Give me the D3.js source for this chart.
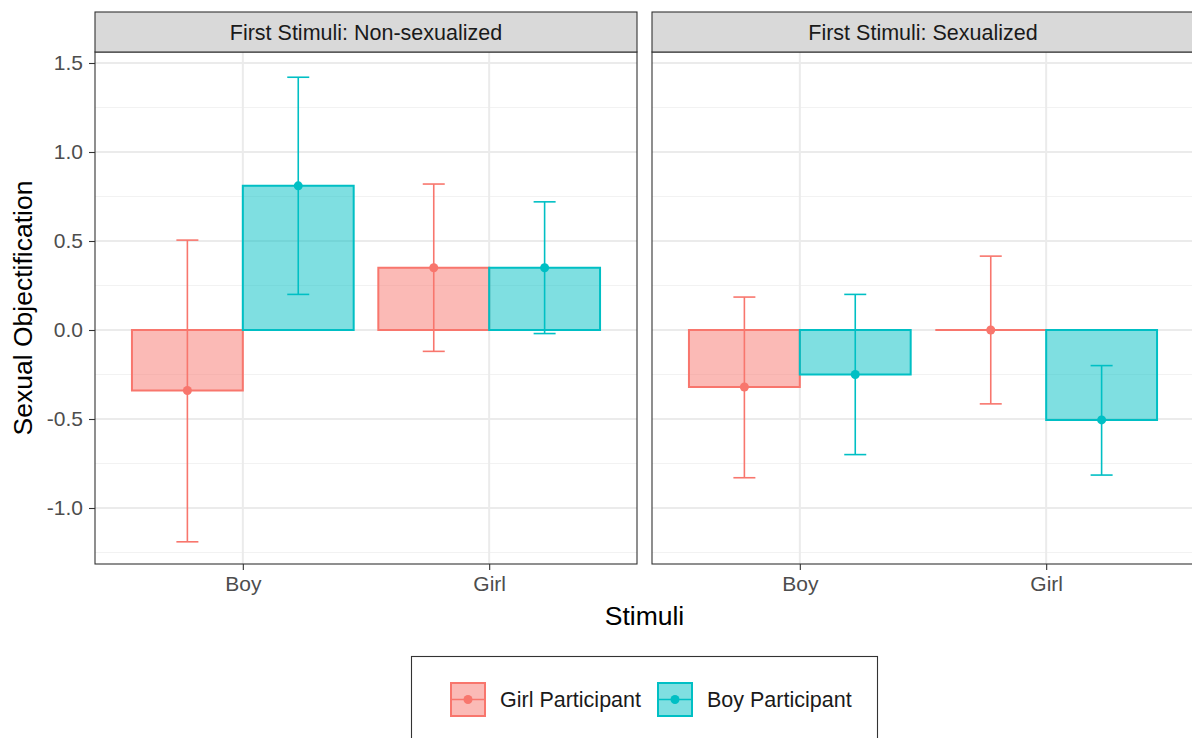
<!DOCTYPE html>
<html>
<head>
<meta charset="utf-8">
<script src="https://cdn.jsdelivr.net/npm/d3@7"></script>
<style>
  body { margin: 0; background: #fff; }
  svg text { font-family: "Liberation Sans", Arial, sans-serif; }
</style>
</head>
<body>
<div class="chart"></div>
<script>
// data
var facets = ["First Stimuli: Non-sexualized", "First Stimuli: Sexualized"];
var stimuli = ["Boy", "Girl"];
var participants = ["Girl Participant", "Boy Participant"];
var yTicks = [-1.0, -0.5, 0.0, 0.5, 1.0, 1.5];

// mean, lower, upper per facet -> stimulus -> participant
var means = [
  [[-0.34, 0.81], [0.35, 0.35]],
  [[-0.32, -0.25], [0.0, -0.505]]
];
var lowers = [
  [[-1.19, 0.20], [-0.12, -0.02]],
  [[-0.83, -0.70], [-0.415, -0.815]]
];
var uppers = [
  [[0.505, 1.42], [0.82, 0.72]],
  [[0.185, 0.20], [0.415, -0.20]]
];

var colors = ["#F8766D", "#00BFC4"];

var svgWidth = 1192, svgHeight = 738;
var panelW = 542, panelTop = 52, panelBottom = 564, stripTop = 12;
var panelX = [95, 652];

var svg = d3.select(".chart").append("svg")
  .attr("width", svgWidth)
  .attr("height", svgHeight);

var y = d3.scaleLinear()
  .domain([-(panelBottom - 330) / 178, (330 - panelTop) / 178])
  .range([panelBottom, panelTop]);

var x = d3.scaleLinear().domain([0.4, 2.6]).range([0, panelW]);
var dodge = 0.45;
var fmt = function(d) { return d3.format(".1f")(d).replace("\u2212", "-"); };

function box(x0, x1, y0, y1) {
  return "M" + x0 + "," + y0 + "H" + x1 + "V" + y1 + "H" + x0 + "Z";
}

facets.forEach(function(f, fi) {
  var g = svg.append("g").attr("transform", "translate(" + panelX[fi] + ",0)");

  // minor grid
  d3.range(-1.25, 1.6, 0.5).forEach(function(v) {
    g.append("line").attr("x1", 0).attr("x2", panelW)
      .attr("y1", y(v)).attr("y2", y(v))
      .attr("stroke", "#F2F2F2").attr("stroke-width", 1);
  });
  // major grid
  yTicks.forEach(function(v) {
    g.append("line").attr("x1", 0).attr("x2", panelW)
      .attr("y1", y(v)).attr("y2", y(v))
      .attr("stroke", "#EBEBEB").attr("stroke-width", 2);
  });
  stimuli.forEach(function(s, si) {
    g.append("line").attr("x1", x(si + 1)).attr("x2", x(si + 1))
      .attr("y1", panelTop).attr("y2", panelBottom)
      .attr("stroke", "#EBEBEB").attr("stroke-width", 2);
  });

  stimuli.forEach(function(s, si) {
    participants.forEach(function(p, pi) {
      var m = means[fi][si][pi];
      var x0 = x(si + 1 - dodge + pi * dodge);
      var x1 = x(si + 1 + pi * dodge);
      var cx = (x0 + x1) / 2;
      var c = colors[pi];

      g.append("path")
        .attr("d", box(x0, x1, y(0), y(m)))
        .attr("fill", c).attr("fill-opacity", 0.5)
        .attr("stroke", c).attr("stroke-width", 2);

      g.append("line").attr("x1", cx).attr("x2", cx)
        .attr("y1", y(lowers[fi][si][pi])).attr("y2", y(uppers[fi][si][pi]))
        .attr("stroke", c).attr("stroke-width", 1.6);
      [lowers[fi][si][pi], uppers[fi][si][pi]].forEach(function(v) {
        g.append("line").attr("x1", cx - 11).attr("x2", cx + 11)
          .attr("y1", y(v)).attr("y2", y(v))
          .attr("stroke", c).attr("stroke-width", 1.6);
      });
      g.append("circle").attr("cx", cx).attr("cy", y(m)).attr("r", 4.5).attr("fill", c);
    });
  });

  // panel border
  g.append("rect").attr("x", 0).attr("y", panelTop)
    .attr("width", panelW).attr("height", panelBottom - panelTop)
    .attr("fill", "none").attr("stroke", "#333").attr("stroke-width", 1.1);

  // strip
  g.append("rect").attr("x", 0).attr("y", stripTop)
    .attr("width", panelW).attr("height", panelTop - stripTop)
    .attr("fill", "#D9D9D9").attr("stroke", "#333").attr("stroke-width", 1.1);
  g.append("text").attr("x", panelW / 2).attr("y", (stripTop + panelTop) / 2 + 7.5)
    .attr("text-anchor", "middle").attr("font-size", 21.5).attr("fill", "#1A1A1A")
    .text(f);

  // x axis
  var xa = g.append("g").attr("transform", "translate(0," + panelBottom + ")")
    .call(d3.axisBottom(x).tickValues([1, 2]).tickFormat(function(d) { return stimuli[d - 1]; })
      .tickSize(6).tickPadding(6));
  xa.select(".domain").remove();
  xa.selectAll("line").attr("stroke", "#333").attr("stroke-width", 1.1);
  xa.selectAll("text").attr("font-size", 21).attr("fill", "#4D4D4D");
});

// y axis
var ya = svg.append("g").attr("transform", "translate(" + panelX[0] + ",0)")
  .call(d3.axisLeft(y).tickValues(yTicks).tickFormat(fmt).tickSize(6).tickPadding(6));
ya.select(".domain").remove();
ya.selectAll("line").attr("stroke", "#333").attr("stroke-width", 1.1);
ya.selectAll("text").attr("font-size", 21).attr("fill", "#4D4D4D");

svg.append("text")
  .attr("transform", "translate(32," + (panelTop + panelBottom) / 2 + ") rotate(-90)")
  .attr("text-anchor", "middle").attr("font-size", 26.5).attr("fill", "#000")
  .text("Sexual Objectification");

svg.append("text")
  .attr("x", (panelX[0] + panelX[1] + panelW) / 2).attr("y", 625)
  .attr("text-anchor", "middle").attr("font-size", 26.5).attr("fill", "#000")
  .text("Stimuli");

// legend
var lg = svg.append("g");
lg.append("rect").attr("x", 411.5).attr("y", 656.5).attr("width", 466).attr("height", 100)
  .attr("fill", "#fff").attr("stroke", "#333").attr("stroke-width", 1.1);
var keyX = [450, 657], textX = [500, 707];
participants.forEach(function(p, pi) {
  var c = colors[pi];
  lg.append("rect").attr("x", keyX[pi] + 1).attr("y", 683).attr("width", 34).attr("height", 33)
    .attr("fill", c).attr("fill-opacity", 0.5).attr("stroke", c).attr("stroke-width", 2);
  lg.append("line").attr("x1", keyX[pi] + 1).attr("x2", keyX[pi] + 35)
    .attr("y1", 699.5).attr("y2", 699.5).attr("stroke", c).attr("stroke-width", 1.6);
  lg.append("circle").attr("cx", keyX[pi] + 18).attr("cy", 699.5).attr("r", 4.5).attr("fill", c);
  lg.append("text").attr("x", textX[pi]).attr("y", 707)
    .attr("font-size", 21.5).attr("fill", "#1A1A1A").text(p);
});
</script>
</body>
</html>
